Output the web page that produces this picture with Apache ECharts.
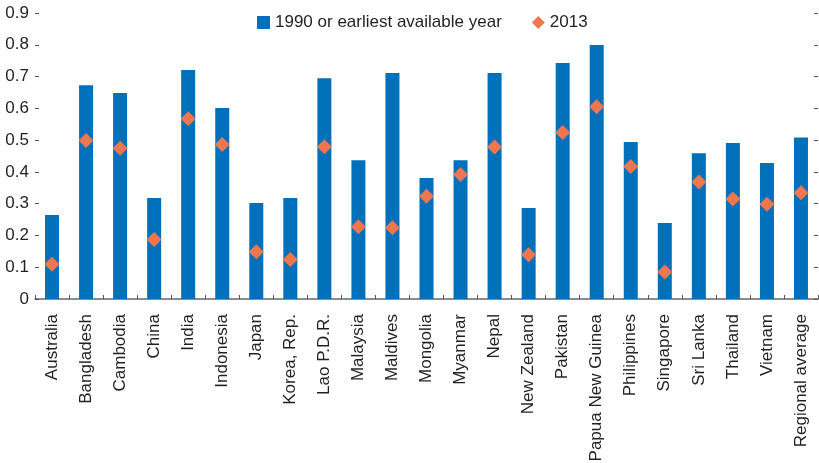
<!DOCTYPE html>
<html>
<head>
<meta charset="utf-8">
<script src="https://cdn.jsdelivr.net/npm/echarts@6/dist/echarts.min.js"></script>
<style>
  html, body { margin: 0; padding: 0; background: #fff; }
  #chart { width: 819px; height: 463px; }
</style>
</head>
<body>
<div id="chart"></div>
<script>
// Countries along the horizontal axis
const countries = [
  "Australia", "Bangladesh", "Cambodia", "China", "India", "Indonesia", "Japan",
  "Korea, Rep.", "Lao P.D.R.", "Malaysia", "Maldives", "Mongolia", "Myanmar",
  "Nepal", "New Zealand", "Pakistan", "Papua New Guinea", "Philippines",
  "Singapore", "Sri Lanka", "Thailand", "Vietnam", "Regional average"
];

// Bars: 1990 or earliest available year
const valuesEarliest = [
  0.264, 0.673, 0.648, 0.318, 0.721, 0.601, 0.302,
  0.318, 0.695, 0.437, 0.711, 0.381, 0.437,
  0.711, 0.286, 0.743, 0.799, 0.494,
  0.239, 0.459, 0.491, 0.428, 0.508
];

// Diamonds: 2013
const values2013 = [
  0.109, 0.499, 0.474, 0.187, 0.567, 0.486, 0.149,
  0.124, 0.479, 0.227, 0.224, 0.323, 0.392,
  0.478, 0.139, 0.524, 0.605, 0.417,
  0.085, 0.368, 0.315, 0.298, 0.334
];

const seriesNames = ["1990 or earliest available year", "2013"];

const FONT = '"Liberation Sans", Arial, sans-serif';
const TEXT = "#231F20";
const BLUE = "#0070BA";
const ORANGE = "#F07650";

const chart = echarts.init(document.getElementById("chart"), null, { renderer: "canvas" });

const valueAxisBase = {
  type: "value",
  min: 0,
  max: 0.9,
  interval: 0.1,
  splitLine: { show: false },
  axisLine: { show: false },
  axisTick: { show: true, inside: true, length: 4, lineStyle: { color: "#555", width: 1 } }
};

chart.setOption({
  animation: false,
  textStyle: { fontFamily: FONT },
  legend: {
    left: 252,
    top: 9,
    itemGap: 30,
    itemWidth: 13,
    itemHeight: 13,
    textStyle: { fontFamily: FONT, fontSize: 17, color: TEXT },
    data: [
      { name: seriesNames[0], icon: "rect" },
      { name: seriesNames[1], icon: "diamond" }
    ]
  },
  grid: { left: 35, right: 1, top: 13, bottom: 164, outerBoundsMode: "none" },
  xAxis: {
    type: "category",
    data: countries,
    axisLine: { show: true, lineStyle: { color: "#666", width: 1.5 } },
    axisTick: { show: true, inside: true, length: 4, lineStyle: { color: "#555" } },
    axisLabel: {
      rotate: 90,
      interval: 0,
      margin: 15,
      fontFamily: FONT,
      fontSize: 17,
      color: TEXT
    }
  },
  yAxis: [
    Object.assign({}, valueAxisBase, {
      position: "left",
      axisLabel: { margin: 6, fontFamily: FONT, fontSize: 17, color: TEXT }
    }),
    Object.assign({}, valueAxisBase, {
      position: "right",
      axisLabel: { show: false }
    })
  ],
  series: [
    {
      name: seriesNames[0],
      type: "bar",
      data: valuesEarliest,
      barWidth: 14,
      itemStyle: { color: BLUE },
      z: 2
    },
    {
      name: seriesNames[1],
      type: "scatter",
      data: values2013,
      symbol: "diamond",
      symbolSize: [15, 15],
      itemStyle: { color: ORANGE, opacity: 1 },
      z: 3
    }
  ]
});
</script>
</body>
</html>
